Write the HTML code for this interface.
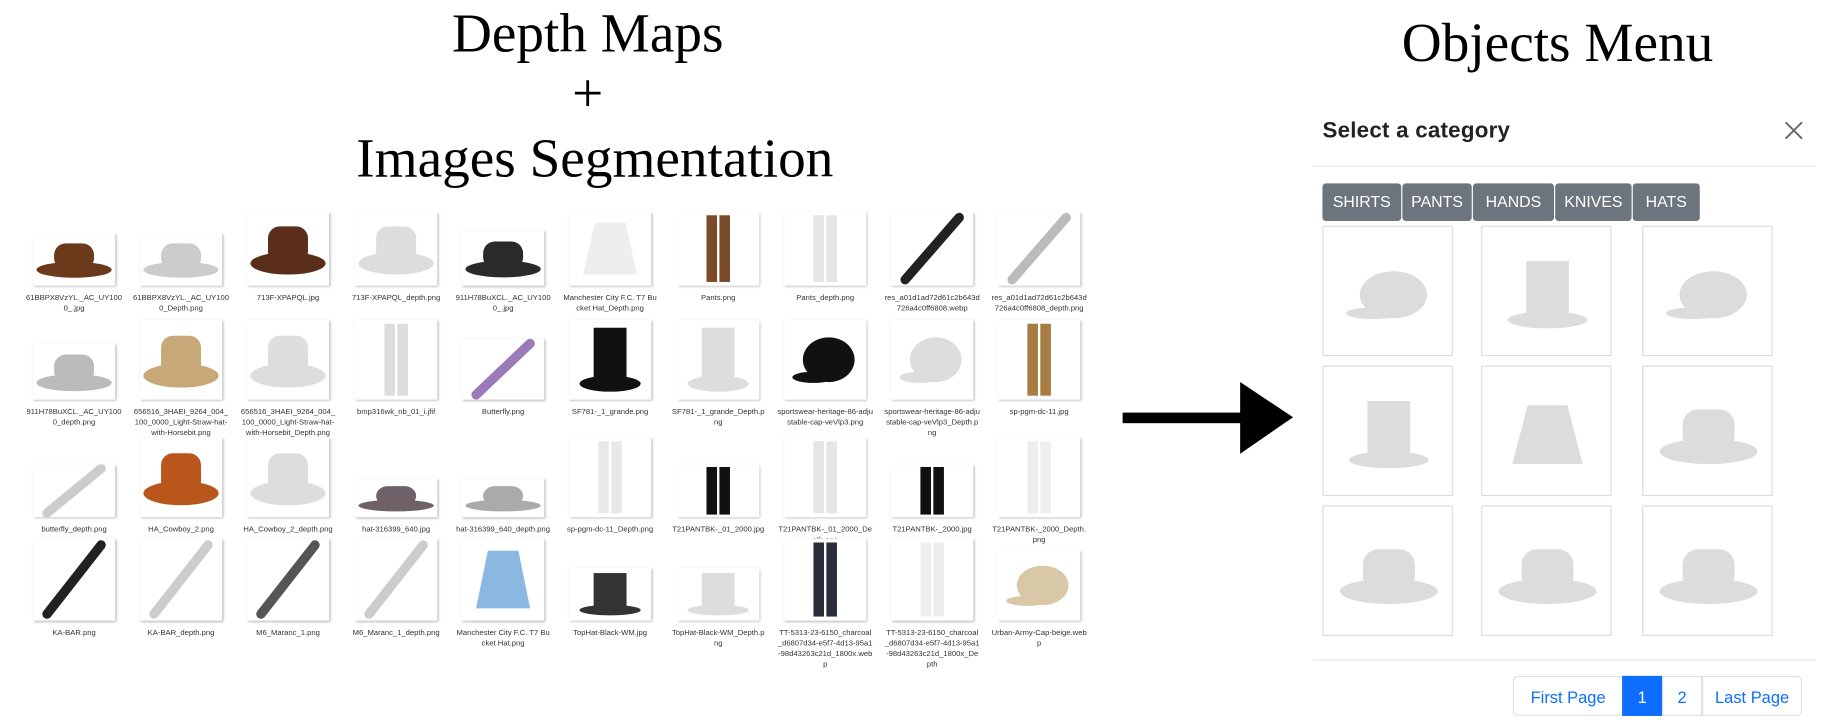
<!DOCTYPE html>
<html><head><meta charset="utf-8">
<style>
html,body{margin:0;padding:0;background:#fff;width:1822px;height:725px;overflow:hidden}
#stage{position:absolute;left:0;top:0;width:1550px;height:617px;transform:scale(1.1755);transform-origin:0 0;font-family:"Liberation Sans",sans-serif}
.title{position:absolute;font-family:"Liberation Serif",serif;font-size:47px;color:#000;white-space:nowrap;transform:translateX(-50%);line-height:1}
.thumb{position:absolute;width:70px;box-shadow:1px 1px 2px #bbb;background:#fff;overflow:hidden}
.cap{position:absolute;width:82px;font-size:6.5px;line-height:9px;text-align:center;color:#333;word-break:break-all}
.tab{position:absolute;top:156px;height:32px;background:#6c757d;color:#fff;font-size:13.5px;line-height:32px;text-align:center;border-radius:3px}
.card{position:absolute;width:111px;height:111px;border:1px solid #ddd;box-sizing:border-box;background:#fff}
.pg{position:absolute;top:575px;height:34px;line-height:34px;font-size:14px;text-align:center;color:#0d6efd;border:1px solid #dee2e6;box-sizing:border-box;background:#fff}
</style></head><body>
<div id="stage">
<div class="title" style="left:500px;top:6px">Depth Maps</div>
<div class="title" style="left:500px;top:57px">+</div>
<div class="title" style="left:506px;top:112px">Images Segmentation</div>
<div class="title" style="left:1325px;top:14px">Objects Menu</div>

<svg style="position:absolute;left:950px;top:320px" width="155" height="70">
<rect x="5" y="31" width="105" height="9" fill="#000"/>
<polygon points="105,5 150,35 105,66" fill="#000"/>
</svg>

<div id="grid"></div>

<div style="position:absolute;left:1125px;top:101px;font-size:19px;color:#222;font-weight:bold;letter-spacing:0.2px">Select a category</div>
<svg style="position:absolute;left:1518px;top:103px" width="16" height="16"><path d="M1 1L15 15M15 1L1 15" stroke="#666" stroke-width="1.6"/></svg>
<div style="position:absolute;left:1117px;top:141px;width:428px;height:1px;background:#e5e5e5"></div>
<div class="tab" style="left:1125px;width:67px">SHIRTS</div>
<div class="tab" style="left:1193px;width:59px">PANTS</div>
<div class="tab" style="left:1253px;width:69px">HANDS</div>
<div class="tab" style="left:1323px;width:65px">KNIVES</div>
<div class="tab" style="left:1389px;width:57px">HATS</div>
<div id="cards"></div>
<div style="position:absolute;left:1117px;top:561px;width:428px;height:1px;background:#e5e5e5"></div>
<div class="pg" style="left:1287px;width:94px;border-radius:4px 0 0 4px">First Page</div>
<div class="pg" style="left:1380px;width:34px;background:#0d6efd;color:#fff;border-color:#0d6efd">1</div>
<div class="pg" style="left:1414px;width:34px">2</div>
<div class="pg" style="left:1448px;width:85px;border-radius:0 4px 4px 0">Last Page</div>
</div>
<script>
var colX=[28,119,210,302,393,484,576,667,758,849];
var rowBottom=[243,340,440,528];
var items=[
[[45,'hat','#6b3a1a','61BBPX8VzYL._AC_UY1000_.jpg'],[45,'hat','#ccc','61BBPX8VzYL._AC_UY1000_Depth.png'],[63,'hat','#5a2e1a','713F-XPAPQL.jpg'],[63,'hat','#ddd','713F-XPAPQL_depth.png'],[47,'hat','#2a2a2a','911H78BuXCL._AC_UY1000_.jpg'],[63,'bucket','#eee','Manchester City F.C. T7 Bucket Hat_Depth.png'],[63,'pants','#7a4a2a','Pants.png'],[63,'pants','#e5e5e5','Pants_depth.png'],[63,'knife','#222','res_a01d1ad72d61c2b643d726a4c0ff6808.webp'],[63,'knife','#bbb','res_a01d1ad72d61c2b643d726a4c0ff6808_depth.png']],
[[48,'hat','#bbb','911H78BuXCL._AC_UY1000_depth.png'],[68,'hat','#c8a878','656516_3HAEI_9264_004_100_0000_Light-Straw-hat-with-Horsebit.png'],[68,'hat','#ddd','656516_3HAEI_9264_004_100_0000_Light-Straw-hat-with-Horsebit_Depth.png'],[68,'pants','#ddd','bmp316wk_nb_01_i.jfif'],[52,'knife','#9a7ab8','Butterfly.png'],[68,'top','#111','SF781-_1_grande.png'],[68,'top','#ddd','SF781-_1_grande_Depth.png'],[68,'cap','#111','sportswear-heritage-86-adjustable-cap-veVlp3.png'],[68,'cap','#ddd','sportswear-heritage-86-adjustable-cap-veVlp3_Depth.png'],[68,'pants','#a67c42','sp-pgm-dc-11.jpg']],
[[45,'knife','#ccc','butterfly_depth.png'],[68,'hat','#b8561c','HA_Cowboy_2.png'],[68,'hat','#ddd','HA_Cowboy_2_depth.png'],[33,'hat','#6e6268','hat-316399_640.jpg'],[33,'hat','#aaa','hat-316399_640_depth.png'],[68,'pants','#e8e8e8','sp-pgm-dc-11_Depth.png'],[45,'pants','#111','T21PANTBK-_01_2000.jpg'],[68,'pants','#e5e5e5','T21PANTBK-_01_2000_Depth.png'],[45,'pants','#111','T21PANTBK-_2000.jpg'],[68,'pants','#eee','T21PANTBK-_2000_Depth.png']],
[[70,'knife','#222','KA-BAR.png'],[70,'knife','#ccc','KA-BAR_depth.png'],[70,'knife','#555','M6_Maranc_1.png'],[70,'knife','#ccc','M6_Maranc_1_depth.png'],[70,'bucket','#8ab8e0','Manchester City F.C. T7 Bucket Hat.png'],[45,'top','#333','TopHat-Black-WM.jpg'],[45,'top','#ddd','TopHat-Black-WM_Depth.png'],[70,'pants','#2a2e3a','TT-5313-23-6150_charcoal_d6807d34-e5f7-4d13-95a1-98d43263c21d_1800x.webp'],[70,'pants','#eee','TT-5313-23-6150_charcoal_d6807d34-e5f7-4d13-95a1-98d43263c21d_1800x_Depth'],[60,'cap','#d8c8a8','Urban-Army-Cap-beige.webp']]
];
function shape(t,c,h){
  if(t==='hat') return '<ellipse cx="35" cy="'+(h*0.7)+'" rx="32" ry="'+(h*0.15)+'" fill="'+c+'"/><rect x="18" y="'+(h*0.2)+'" width="34" height="'+(h*0.5)+'" rx="10" fill="'+c+'"/>';
  if(t==='bucket') return '<path d="M22 '+(h*0.15)+' L48 '+(h*0.15)+' L58 '+(h*0.85)+' L12 '+(h*0.85)+' Z" fill="'+c+'"/>';
  if(t==='top') return '<ellipse cx="35" cy="'+(h*0.8)+'" rx="26" ry="'+(h*0.1)+'" fill="'+c+'"/><rect x="21" y="'+(h*0.1)+'" width="28" height="'+(h*0.7)+'" fill="'+c+'"/>';
  if(t==='cap') return '<ellipse cx="38" cy="'+(h*0.5)+'" rx="22" ry="'+(h*0.28)+'" fill="'+c+'"/><ellipse cx="25" cy="'+(h*0.72)+'" rx="18" ry="'+(h*0.07)+'" fill="'+c+'"/>';
  if(t==='pants') return '<rect x="25" y="'+(h*0.05)+'" width="9" height="'+(h*0.9)+'" fill="'+c+'"/><rect x="36" y="'+(h*0.05)+'" width="9" height="'+(h*0.9)+'" fill="'+c+'"/>';
  if(t==='knife') return '<line x1="12" y1="'+(h*0.92)+'" x2="58" y2="'+(h*0.08)+'" stroke="'+c+'" stroke-width="8" stroke-linecap="round"/>';
  return '';
}
var g=document.getElementById('grid');
items.forEach(function(row,r){
  row.forEach(function(it,i){
    var h=it[0];
    var d=document.createElement('div');
    d.className='thumb';
    
    
    d.style.left=colX[i]+'px';d.style.top=(rowBottom[r]-h)+'px';d.style.height=h+'px';
    d.innerHTML='<svg width="70" height="'+h+'">'+shape(it[1],it[2],h)+'</svg>';
    g.appendChild(d);
    var c=document.createElement('div');
    c.className='cap';
    
    
    c.style.left=(colX[i]-6)+'px';c.style.top=(rowBottom[r]+6)+'px';
    c.textContent=it[3];
    g.appendChild(c);
  });
});
var cardX=[1125,1260,1397], cardY=[192,311,430];
var cardShapes=['cap','top','cap','top','bucket','hat','hat','hat','hat'];
var cw=document.getElementById('cards');
for(var k=0;k<9;k++){
  var d=document.createElement('div');
  d.className='card';
  
  
  d.style.left=cardX[k%3]+'px';d.style.top=cardY[Math.floor(k/3)]+'px';
  d.innerHTML='<svg width="111" height="111"><g transform="translate(10,22) scale(1.3)">'+shape(cardShapes[k],'#dcdcdc',55)+'</g></svg>';
  cw.appendChild(d);
}
</script>
</body></html>
